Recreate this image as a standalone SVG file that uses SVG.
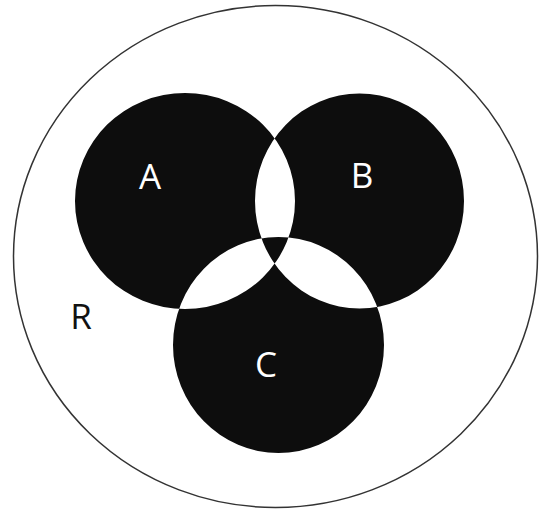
<svg xmlns="http://www.w3.org/2000/svg" width="545" height="511" viewBox="0 0 545 511">
  <style>
    .lbl { font-family: "Open Sans", "Liberation Sans", sans-serif; font-size: 35px; text-anchor: middle; }
    .w { fill: #ffffff; }
    .k { fill: #111111; }
  </style>
  <rect width="545" height="511" fill="#ffffff"/>
  <g id="R">
    <ellipse cx="275.5" cy="256.5" rx="262" ry="251" fill="none" stroke="#333333" stroke-width="1.5"/>
    <text class="lbl k" x="81" y="329">R</text>
  </g>
  <g id="regions">
    <path fill="#0d0d0d" fill-rule="evenodd" d="M75,201 a110,108 0 1,0 220,0 a110,108 0 1,0 -220,0 Z M255,201 a104.5,107.5 0 1,0 209,0 a104.5,107.5 0 1,0 -209,0 Z M173,345 a105.5,108 0 1,0 211,0 a105.5,108 0 1,0 -211,0 Z"/>
  </g>
  <g id="A">
    <text class="lbl w" x="150" y="189">A</text>
  </g>
  <g id="B">
    <text class="lbl w" x="362" y="188">B</text>
  </g>
  <g id="C">
    <text class="lbl w" x="266" y="377">C</text>
  </g>
  <g id="connectors"/>
</svg>
